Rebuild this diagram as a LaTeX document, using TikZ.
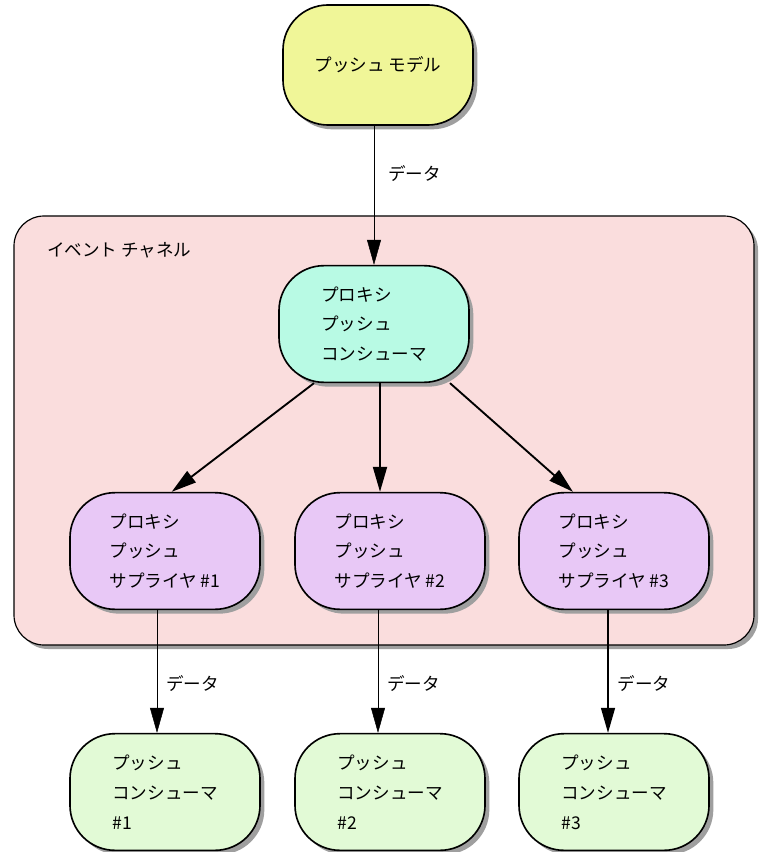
\documentclass[tikz,border=0pt]{standalone}
\usepackage{fontspec}
\newfontfamily\jpfont{Noto Sans CJK JP}
\usepackage{tikz}
\usetikzlibrary{arrows.meta,shadows}
\usepackage{xcolor}
\definecolor{modelfill}{RGB}{240,246,152}
\definecolor{proxyfill}{RGB}{184,250,228}
\definecolor{supfill}{RGB}{232,200,246}
\definecolor{consfill}{RGB}{226,250,214}
\definecolor{chanfill}{RGB}{250,221,221}

\begin{document}
\begin{tikzpicture}[x=0.03cm,y=-0.03cm,>={Triangle[length=0.75cm,width=0.42cm]},
  txt/.style={font=\jpfont\fontsize{15}{25.5}\selectfont},
  blob/.style={txt,draw,line width=1.4pt,rounded corners=1.35cm,align=left,
    minimum width=5.7cm,minimum height=3.5cm,
    drop shadow={shadow xshift=0.13cm,shadow yshift=-0.13cm,fill=gray!75,opacity=1}},
  feed/.style={->,line width=1.6pt}]
\useasboundingbox (0,0) rectangle (761,852);
% event channel
\draw[fill=chanfill,line width=1pt,rounded corners=0.9cm,
  drop shadow={shadow xshift=0.12cm,shadow yshift=-0.12cm,fill=gray!75,opacity=1}]
  (14,216) rectangle (754,645);
\node[txt,anchor=west] (chname) at (43,250) {イベント チャネル};
% nodes
\node[blob,fill=modelfill,minimum height=3.6cm] (model) at (378,65) {プッシュ モデル};
\node[blob,fill=proxyfill] (pcons) at (374,324) {プロキシ\\プッシュ\\コンシューマ};
\foreach \n/\x in {1/165,2/390,3/614}{
  \node[blob,fill=supfill] (sup\n) at (\x,551) {プロキシ\\プッシュ\\サプライヤ \#\n};
  \node[blob,fill=consfill] (cons\n) at (\x,792) {プッシュ\\コンシューマ\\\#\n};
}
% connectors
\draw[->,thin] (model.south -| pcons.north) -- (pcons.north)
  node[txt,pos=0.34,right=0.3cm] (lbl0) {データ};
\draw[feed] ([xshift=-1.8cm]pcons.south) -- ([xshift=0.2cm]sup1.north);
\draw[feed] ([xshift=0.18cm]pcons.south) -- ([xshift=-0.3cm]sup2.north);
\draw[feed] ([xshift=2.28cm]pcons.south) -- ([xshift=-1.23cm]sup3.north);
\foreach \n/\dx/\w in {1/-0.24cm/thin,2/-0.36cm/thin,3/-0.18cm/very thick}
  \draw[->,\w] ([xshift=\dx]sup\n.south) -- ([xshift=\dx]cons\n.north)
    node[txt,pos=0.6,right=0.15cm] (lbl\n) {データ};
\end{tikzpicture}
\end{document}
